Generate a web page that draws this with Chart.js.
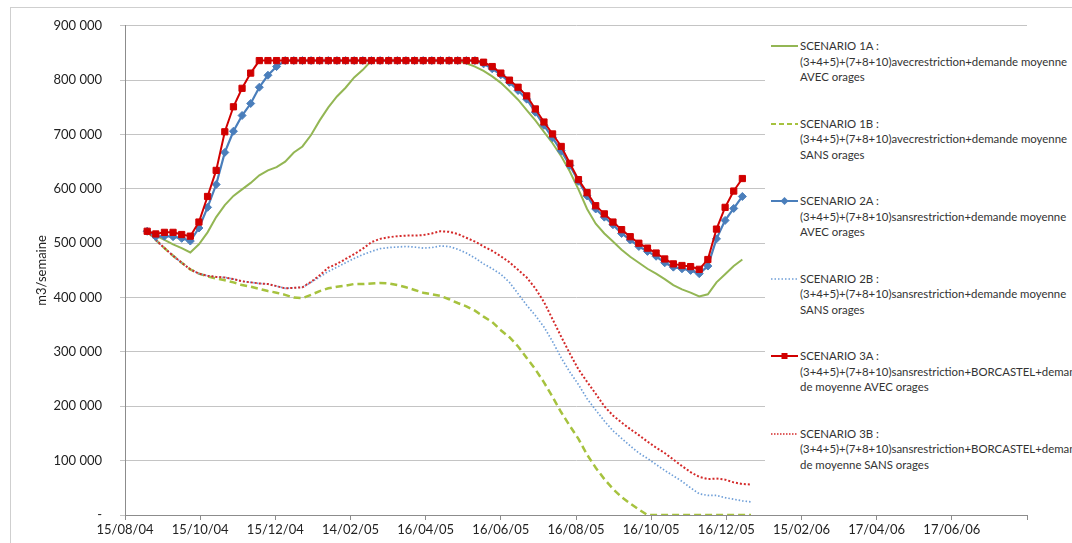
<!DOCTYPE html>
<html lang="fr">
<head>
  <meta charset="UTF-8" />
  <title>Scénarios m3/semaine</title>
  <script src="https://cdn.jsdelivr.net/npm/chart.js"></script>
  <style>
    html, body { margin: 0; padding: 0; background: #fff; overflow: hidden; }
    .wrap { position: relative; width: 1072px; height: 543px; overflow: hidden; }
    .frame { position: absolute; left: 10px; top: 7px; width: 1200px; height: 700px; border: 1px solid #cfcfcf; pointer-events: none; }
    #legend { position: absolute; left: 765px; top: 30px; width: 320px; height: 445px; background: #fff; font-family: Lato, "Open Sans", sans-serif; font-size: 11.4px; color: #333; white-space: nowrap; }
    .item { position: absolute; left: 0; line-height: 15.5px; }
    .item svg { position: absolute; left: 4px; top: 2px; }
    .item .txt { margin-left: 35px; }
  </style>
</head>
<body>
  <div class="wrap">
    <canvas id="chart" width="1072" height="543"></canvas>
    <div id="legend"></div>
    <div class="frame"></div>
  </div>

  <script>
    // x axis: days after 15/08/04, one tick every 61 days
    const tickLabels = ["15/08/04", "15/10/04", "15/12/04", "14/02/05", "16/04/05", "16/06/05",
      "16/08/05", "16/10/05", "16/12/05", "15/02/06", "17/04/06", "17/06/06"];
    const firstWeekDay = 18; // first weekly value, days after 15/08/04

    const scenario1A = [522000, 514000, 506000, 498000, 491000, 483000, 498000, 520000, 548000, 570000,
      587000, 599000, 611000, 625000, 634000, 640000, 650000, 667000, 678000, 699000,
      726000, 750000, 770000, 786000, 805000, 819000, 836000, 836000, 836000, 836000,
      836000, 836000, 836000, 836000, 836000, 836000, 836000, 831000, 825000, 817000,
      807000, 795000, 780000, 764000, 745000, 726000, 705000, 684000, 660000, 632000,
      599000, 563000, 536000, 518000, 503000, 488000, 475000, 464000, 453000, 444000,
      434000, 423000, 415000, 409000, 402000, 406000, 428000, 443000, 458000, 470000];

    const scenario1B = [522000, 506000, 491000, 477000, 464000, 452000, 444000, 439000, 435000, 432000,
      428000, 423000, 420000, 416000, 412000, 409000, 405000, 400000, 399000, 405000,
      412000, 417000, 420000, 422000, 425000, 425000, 426000, 427000, 426000, 423000,
      419000, 414000, 409000, 406000, 403000, 397000, 390000, 384000, 376000, 365000,
      355000, 340000, 327000, 310000, 289000, 268000, 244000, 217000, 189000, 164000,
      140000, 111000, 87000, 66000, 48000, 33000, 21000, 10000, 0, 0,
      0, 0, 0, 0, 0, 0, 0, 0, 0, 0, 0];

    const scenario2A = [522000, 512000, 513000, 512000, 509000, 504000, 528000, 566000, 608000, 667000,
      706000, 735000, 757000, 787000, 809000, 825000, 836000, 836000, 836000, 836000,
      836000, 836000, 836000, 836000, 836000, 836000, 836000, 836000, 836000, 836000,
      836000, 836000, 836000, 836000, 836000, 836000, 836000, 836000, 836000, 830000,
      821000, 810000, 796000, 781000, 765000, 741000, 717000, 694000, 670000, 643000,
      614000, 587000, 563000, 548000, 534000, 518000, 506000, 494000, 485000, 476000,
      464000, 456000, 453000, 450000, 444000, 458000, 508000, 542000, 564000, 586000];

    const scenario2B = [522000, 506000, 491000, 477000, 464000, 452000, 444000, 440000, 438000, 437000,
      434000, 430000, 428000, 426000, 425000, 421000, 417000, 418000, 419000, 428000,
      438000, 448000, 456000, 464000, 472000, 479000, 485000, 490000, 492000, 493000,
      494000, 493000, 491000, 492000, 495000, 494000, 489000, 482000, 473000, 462000,
      453000, 443000, 428000, 407000, 386000, 367000, 346000, 319000, 289000, 263000,
      240000, 214000, 193000, 173000, 155000, 141000, 127000, 114000, 104000, 93000,
      82000, 72000, 62000, 50000, 39000, 36000, 36000, 32000, 29000, 26000, 24000];

    const scenario3A = [522000, 517000, 520000, 520000, 516000, 513000, 539000, 586000, 634000, 705000,
      751000, 785000, 813000, 836000, 836000, 836000, 836000, 836000, 836000, 836000,
      836000, 836000, 836000, 836000, 836000, 836000, 836000, 836000, 836000, 836000,
      836000, 836000, 836000, 836000, 836000, 836000, 836000, 836000, 836000, 833000,
      825000, 813000, 800000, 787000, 771000, 747000, 723000, 701000, 678000, 647000,
      617000, 593000, 569000, 554000, 539000, 525000, 512000, 500000, 491000, 482000,
      471000, 462000, 459000, 457000, 452000, 470000, 526000, 566000, 596000, 619000];

    const scenario3B = [522000, 506000, 491000, 477000, 464000, 452000, 444000, 440000, 438000, 437000,
      434000, 430000, 428000, 426000, 425000, 421000, 417000, 418000, 419000, 429000,
      441000, 455000, 462000, 471000, 480000, 490000, 502000, 508000, 511000, 513000,
      514000, 514000, 515000, 518000, 522000, 521000, 517000, 510000, 503000, 494000,
      486000, 476000, 465000, 451000, 437000, 417000, 392000, 360000, 328000, 297000,
      268000, 245000, 223000, 200000, 183000, 170000, 158000, 147000, 135000, 124000,
      114000, 102000, 90000, 79000, 70000, 66000, 67000, 65000, 60000, 57000, 56000];

    const legendTexts = [
      ["SCENARIO 1A :", "(3+4+5)+(7+8+10)avecrestriction+demande moyenne", "AVEC orages"],
      ["SCENARIO 1B :", "(3+4+5)+(7+8+10)avecrestriction+demande moyenne", "SANS orages"],
      ["SCENARIO 2A :", "(3+4+5)+(7+8+10)sansrestriction+demande moyenne", "AVEC orages"],
      ["SCENARIO 2B :", "(3+4+5)+(7+8+10)sansrestriction+demande moyenne", "SANS orages"],
      ["SCENARIO 3A :", "(3+4+5)+(7+8+10)sansrestriction+BORCASTEL+deman", "de moyenne AVEC orages"],
      ["SCENARIO 3B :", "(3+4+5)+(7+8+10)sansrestriction+BORCASTEL+deman", "de moyenne SANS orages"]
    ];

    const weekly = arr => arr.map((v, i) => ({ x: firstWeekDay + 7 * i, y: v }));

    const green = "#93b654", greenDash = "#a6c23e", blue = "#4a7ebb", blueDot = "#6f9fd8",
          red = "#d10000", redDot = "#d42a2a";

    const datasets = [
      { label: "1A", data: weekly(scenario1A), borderColor: green, borderWidth: 2, pointRadius: 0, order: 2 },
      { label: "1B", data: weekly(scenario1B), borderColor: greenDash, borderWidth: 2.5, borderDash: [7, 4], pointRadius: 0, order: 5 },
      { label: "2A", data: weekly(scenario2A), borderColor: blue, backgroundColor: blue, borderWidth: 2.2,
        pointStyle: "rectRot", pointRadius: 4, pointBorderWidth: 1, order: 1 },
      { label: "2B", data: weekly(scenario2B), borderColor: blueDot, borderWidth: 1.7, borderDash: [1.5, 2], pointRadius: 0, order: 4 },
      { label: "3A", data: weekly(scenario3A), borderColor: red, backgroundColor: red, borderWidth: 2,
        pointStyle: "rect", pointRadius: 4.4, pointBorderWidth: 1, order: 0 },
      { label: "3B", data: weekly(scenario3B), borderColor: redDot, borderWidth: 2, borderDash: [2, 2], pointRadius: 0, order: 3 }
    ];

    const fmt = v => v === 0 ? "-" : String(v).replace(/\B(?=(\d{3})+(?!\d))/g, " ");
    const font = { family: "Lato, 'Open Sans', sans-serif", size: 13 };

    new Chart(document.getElementById("chart"), {
      type: "line",
      data: { datasets },
      options: {
        responsive: false,
        animation: false,
        layout: { padding: { left: 10, right: 45, top: 17, bottom: 0 } },
        plugins: { legend: { display: false }, tooltip: { enabled: false } },
        elements: { line: { tension: 0 } },
        scales: {
          x: {
            type: "linear", min: 0, max: 732,
            afterFit: s => { s.height = 28; },
            afterBuildTicks: s => { s.ticks = tickLabels.concat([""]).map((_, i) => ({ value: i * 61 })); },
            ticks: { autoSkip: false, maxRotation: 0, padding: 2, color: "#222", font,
                     callback: (v, i) => tickLabels[i] || "" },
            grid: { drawOnChartArea: false, drawTicks: true, tickLength: 5, color: "#8c8c8c" },
            border: { color: "#8c8c8c" }
          },
          y: {
            min: 0, max: 900000,
            afterFit: s => { s.width = 115; },
            ticks: { stepSize: 100000, padding: 18, color: "#222", font, callback: v => fmt(v) },
            grid: { color: "#c4c4c4", tickLength: 5 },
            border: { color: "#8c8c8c" },
            title: { display: true, text: "m3/semaine", color: "#222", font, padding: { top: 24, bottom: 0 } }
          }
        }
      }
    });

    // HTML legend drawn over the right part of the plot, as in the original
    const symbols = [
      '<line x1="2" y1="6" x2="29" y2="6" stroke="' + green + '" stroke-width="2"/>',
      '<line x1="2" y1="6" x2="29" y2="6" stroke="' + greenDash + '" stroke-width="2" stroke-dasharray="5 3"/>',
      '<line x1="2" y1="6" x2="29" y2="6" stroke="' + blue + '" stroke-width="2"/><path d="M15.5 2 L19.5 6 L15.5 10 L11.5 6 Z" fill="' + blue + '"/>',
      '<line x1="2" y1="6" x2="29" y2="6" stroke="' + blueDot + '" stroke-width="1.5" stroke-dasharray="1.5 2"/>',
      '<line x1="2" y1="6" x2="29" y2="6" stroke="' + red + '" stroke-width="2"/><rect x="12.5" y="3" width="6" height="6" fill="' + red + '"/>',
      '<line x1="2" y1="6" x2="29" y2="6" stroke="' + redDot + '" stroke-width="1.5" stroke-dasharray="1.5 1.5"/>'
    ];
    const legend = document.getElementById("legend");
    legendTexts.forEach((lines, k) => {
      const div = document.createElement("div");
      div.className = "item";
      div.style.top = (8 + k * 77.5) + "px";
      div.innerHTML = '<svg width="31" height="12">' + symbols[k] + '</svg><div class="txt">' + lines.join("<br>") + "</div>";
      legend.appendChild(div);
    });
  </script>
</body>
</html>
